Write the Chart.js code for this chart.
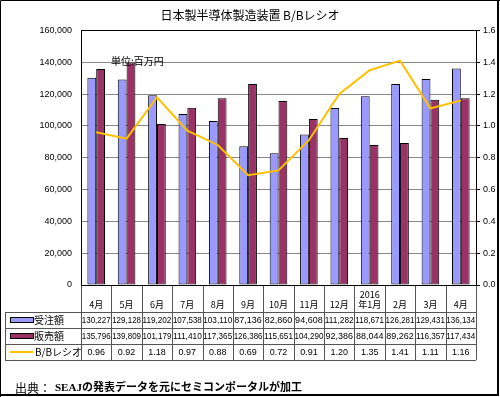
<!DOCTYPE html>
<html>
<head>
<meta charset="utf-8">
<script src="https://cdn.jsdelivr.net/npm/chart.js@4/dist/chart.umd.min.js"></script>
<style>
html,body{margin:0;padding:0;background:#fff;}
#wrap{width:500px;height:397px;position:relative;}
</style>
</head>
<body>
<div id="wrap"><canvas id="c" width="500" height="397"></canvas></div>
<script>
const categories = ['4月','5月','6月','7月','8月','9月','10月','11月','12月','2016\n年1月','2月','3月','4月'];
const orders = [130227,129128,119202,107538,103110,87136,82860,94608,111282,118671,126281,129431,136134];
const sales = [135796,139809,101179,111410,117365,126386,115651,104290,92386,88044,89262,116357,117434];
const bbRatio = [0.96,0.92,1.18,0.97,0.88,0.69,0.72,0.91,1.20,1.35,1.41,1.11,1.16];
const seriesNames = ['受注額','販売額','B/Bレシオ'];
const titleText = '日本製半導体製造装置 B/Bレシオ';
const unitText = '単位:百万円';
const sourceLabel = '出典：';
const sourceText = 'SEAJの発表データを元にセミコンポータルが加工';

const COL_ORD = '#9999FF', COL_SAL = '#993366', COL_BB = '#FFC000';
const SANS = '"Liberation Sans", "Noto Sans CJK JP", sans-serif';
const JP = '"Noto Sans CJK JP", "Liberation Sans", sans-serif';

const tablePlugin = {
  id: 'tbl',
  beforeDraw(chart) {
    const ctx = chart.ctx;
    ctx.save();
    ctx.fillStyle = '#fff';
    ctx.fillRect(0, 0, chart.width, chart.height);
    ctx.restore();
  },
  afterDraw(chart) {
    const { ctx, chartArea: a, scales: { x } } = chart;
    const n = categories.length;
    const w = (a.right - a.left) / n;
    const top = Math.round(a.bottom);
    const r1 = top + 27, r2 = r1 + 16, r3 = r2 + 16, r4 = r3 + 16;
    const L = 5;
    const px = v => Math.round(v) + 0.5;
    ctx.save();
    // table lines
    ctx.strokeStyle = '#555';
    ctx.lineWidth = 1;
    ctx.beginPath();
    for (let i = 0; i <= n; i++) {
      const xx = px(x.getPixelForValue(0) - w / 2 + i * w);
      ctx.moveTo(xx, top); ctx.lineTo(xx, r4);
    }
    ctx.moveTo(px(L), r1); ctx.lineTo(px(L), r4);
    [r1, r2, r3, r4].forEach(r => { ctx.moveTo(L, px(r)); ctx.lineTo(a.right, px(r)); });
    ctx.stroke();

    // header labels
    ctx.fillStyle = '#000';
    ctx.textAlign = 'center';
    ctx.textBaseline = 'middle';
    ctx.font = '9px ' + JP;
    categories.forEach((c, i) => {
      const cx = x.getPixelForValue(i);
      const lines = c.split('\n');
      lines.forEach((ln, k) => {
        const y = r1 - 7 - (lines.length - 1 - k) * 10;
        ctx.fillText(ln, cx, y);
      });
    });
    // data rows
    ctx.font = '9px ' + SANS;
    const rows = [
      orders.map(v => v.toLocaleString('en-US')),
      sales.map(v => v.toLocaleString('en-US')),
      bbRatio.map(v => v.toFixed(2))
    ];
    rows.forEach((row, ri) => {
      const cy = r1 + 8.5 + ri * 16;
      row.forEach((t, i) => ctx.fillText(t, x.getPixelForValue(i), cy, w - 1.5));
    });
    // legend keys
    const keyL = 10, keyR = 33;
    ctx.textAlign = 'left';
    ctx.font = '10px ' + JP;
    [[COL_ORD, 0], [COL_SAL, 1]].forEach(([col, ri]) => {
      const cy = r1 + 8 + ri * 16;
      ctx.fillStyle = col;
      ctx.fillRect(keyL, cy - 2, keyR - keyL, 4);
      ctx.strokeStyle = '#000';
      ctx.strokeRect(keyL + 0.5, cy - 2.5, keyR - keyL, 5);
      ctx.fillStyle = '#000';
      ctx.fillText(seriesNames[ri], keyR + 1, cy + 0.5);
    });
    {
      const cy = r1 + 8 + 2 * 16;
      ctx.strokeStyle = COL_BB; ctx.lineWidth = 2;
      ctx.beginPath(); ctx.moveTo(keyL, cy); ctx.lineTo(keyR, cy); ctx.stroke();
      ctx.fillStyle = '#000';
      ctx.fillText(seriesNames[2], keyR + 2, cy + 0.5);
    }
    // unit label
    ctx.font = '10px ' + JP;
    ctx.fillText(unitText, 111, 61);
    // source
    ctx.font = '12px ' + JP;
    ctx.fillText(sourceLabel, 15, 388);
    ctx.font = 'bold 11px "Liberation Serif", "Noto Sans CJK JP", serif';
    ctx.fillText(sourceText, 55, 388);
    // plot border
    ctx.strokeStyle = '#000'; ctx.lineWidth = 1;
    ctx.strokeRect(px(a.left), px(a.top), Math.round(a.right - a.left), Math.round(a.bottom - a.top));
    // image border
    ctx.beginPath();
    ctx.moveTo(0.5, 397); ctx.lineTo(0.5, 0.5); ctx.lineTo(500, 0.5);
    ctx.stroke();
    ctx.lineWidth = 2;
    ctx.beginPath();
    ctx.moveTo(498, 0); ctx.lineTo(498, 395); ctx.lineTo(0, 395);
    ctx.stroke();
    ctx.restore();
  }
};

new Chart(document.getElementById('c'), {
  type: 'bar',
  data: {
    labels: categories,
    datasets: [
      { label: seriesNames[0], data: orders, backgroundColor: COL_ORD, borderColor: '#000', borderWidth: 1, borderSkipped: false, yAxisID: 'y', order: 1 },
      { label: seriesNames[1], data: sales, backgroundColor: COL_SAL, borderColor: '#000', borderWidth: 1, borderSkipped: false, yAxisID: 'y', order: 1 },
      { type: 'line', label: seriesNames[2], data: bbRatio, borderColor: COL_BB, backgroundColor: COL_BB, borderWidth: 2, pointRadius: 0, tension: 0, yAxisID: 'y1', order: 0 }
    ]
  },
  options: {
    responsive: false,
    animation: false,
    devicePixelRatio: 1,
    layout: { padding: 0 },
    datasets: { bar: { categoryPercentage: 0.58, barPercentage: 1.0 } },
    plugins: {
      legend: { display: false },
      tooltip: { enabled: false },
      title: {
        display: true, text: titleText, color: '#000',
        font: { family: JP, size: 12, weight: 'normal' },
        padding: { top: 8, bottom: 8 }
      }
    },
    scales: {
      x: {
        grid: { display: false },
        border: { display: true, color: '#000' },
        ticks: { display: false },
        afterFit: s => { s.height = 112; }
      },
      y: {
        position: 'left', min: 0, max: 160000,
        ticks: { stepSize: 20000, color: '#000', padding: 9, font: { family: SANS, size: 9 },
          callback: v => v.toLocaleString('en-US') },
        grid: { color: '#888', drawTicks: false },
        border: { color: '#000' },
        afterFit: s => { s.width = 81; }
      },
      y1: {
        position: 'right', min: 0, max: 1.6,
        ticks: { stepSize: 0.2, color: '#000', padding: 3, font: { family: SANS, size: 9 },
          callback: v => v.toFixed(1) },
        grid: { drawOnChartArea: false, color: '#000', tickLength: 4 },
        border: { color: '#000' },
        afterFit: s => { s.width = 24; }
      }
    }
  },
  plugins: [tablePlugin]
});
</script>
</body>
</html>
